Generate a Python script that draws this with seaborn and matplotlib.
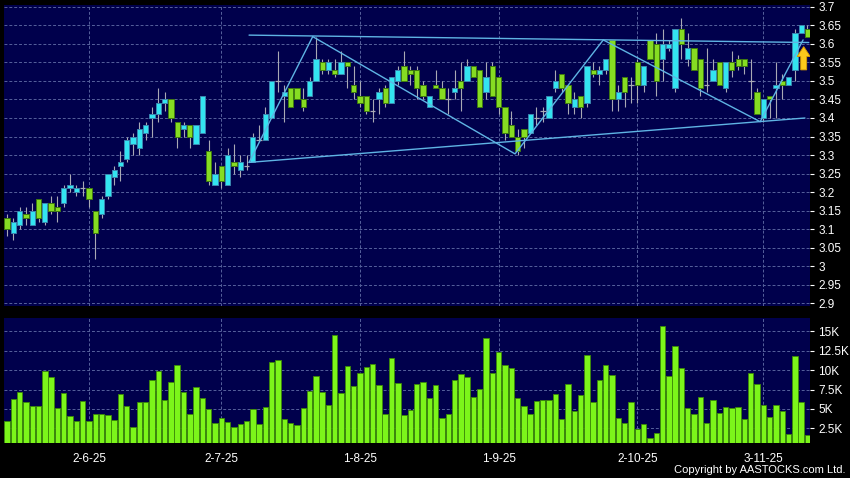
import numpy as np
import pandas as pd
import matplotlib
matplotlib.use('Agg')
from matplotlib import pyplot as plt
from matplotlib.patches import FancyArrow
import seaborn as sns

sns.set_style('dark')
plt.rcParams['font.family'] = ['Liberation Sans', 'DejaVu Sans']

# daily candles, one per trading day (index 0..127)
opens = [3.13, 3.09, 3.11, 3.14, 3.11, 3.18, 3.12, 3.17, 3.16, 3.17,
         3.21, 3.20, 3.21, 3.21, 3.15, 3.14, 3.19, 3.24, 3.27, 3.29,
         3.33, 3.32, 3.36, 3.40, 3.41, 3.44, 3.45, 3.39, 3.37, 3.38,
         3.33, 3.36, 3.31, 3.22, 3.27, 3.22, 3.28, 3.26, 3.27, 3.28,
         3.34, 3.34, 3.40, 3.50, 3.46, 3.48, 3.48, 3.45, 3.46, 3.50,
         3.55, 3.53, 3.53, 3.52, 3.55, 3.49, 3.46, 3.46, 3.42, 3.45,
         3.48, 3.44, 3.50, 3.54, 3.53, 3.53, 3.49, 3.43, 3.49, 3.48,
         3.45, 3.47, 3.50, 3.50, 3.54, 3.53, 3.47, 3.54, 3.51, 3.43,
         3.38, 3.35, 3.37, 3.36, 3.40, 3.42, 3.40, 3.48, 3.52, 3.49,
         3.43, 3.46, 3.44, 3.53, 3.52, 3.53, 3.61, 3.45, 3.51, 3.49,
         3.55, 3.49, 3.61, 3.60, 3.56, 3.59, 3.48, 3.64, 3.56, 3.59,
         3.56, 3.49, 3.50, 3.55, 3.48, 3.55, 3.56, 3.56, 3.50, 3.47,
         3.40, 3.46, 3.48, 3.50, 3.49, 3.53, 3.63, 3.64]
highs = [3.14, 3.13, 3.16, 3.16, 3.17, 3.18, 3.17, 3.19, 3.19, 3.22,
         3.25, 3.22, 3.23, 3.21, 3.15, 3.19, 3.25, 3.27, 3.31, 3.35,
         3.36, 3.39, 3.39, 3.43, 3.48, 3.47, 3.45, 3.39, 3.39, 3.38,
         3.38, 3.46, 3.34, 3.28, 3.27, 3.32, 3.33, 3.30, 3.30, 3.36,
         3.38, 3.43, 3.50, 3.58, 3.49, 3.48, 3.48, 3.48, 3.51, 3.62,
         3.56, 3.56, 3.56, 3.58, 3.55, 3.54, 3.50, 3.46, 3.45, 3.48,
         3.49, 3.51, 3.54, 3.58, 3.54, 3.54, 3.50, 3.46, 3.53, 3.50,
         3.48, 3.53, 3.55, 3.56, 3.54, 3.53, 3.55, 3.55, 3.51, 3.43,
         3.42, 3.37, 3.37, 3.41, 3.43, 3.43, 3.46, 3.53, 3.52, 3.49,
         3.47, 3.46, 3.54, 3.55, 3.54, 3.56, 3.61, 3.49, 3.51, 3.51,
         3.56, 3.54, 3.61, 3.63, 3.64, 3.61, 3.64, 3.67, 3.63, 3.59,
         3.56, 3.59, 3.56, 3.55, 3.55, 3.58, 3.57, 3.56, 3.56, 3.48,
         3.45, 3.46, 3.55, 3.52, 3.51, 3.64, 3.65, 3.65]
lows = [3.08, 3.07, 3.10, 3.11, 3.11, 3.12, 3.11, 3.14, 3.12, 3.16,
        3.20, 3.19, 3.19, 3.16, 3.02, 3.13, 3.18, 3.22, 3.23, 3.28,
        3.30, 3.30, 3.34, 3.35, 3.39, 3.42, 3.39, 3.32, 3.35, 3.32,
        3.33, 3.36, 3.22, 3.22, 3.21, 3.22, 3.25, 3.24, 3.26, 3.28,
        3.34, 3.34, 3.40, 3.47, 3.39, 3.43, 3.45, 3.42, 3.46, 3.50,
        3.52, 3.52, 3.51, 3.52, 3.48, 3.45, 3.43, 3.41, 3.39, 3.41,
        3.43, 3.44, 3.49, 3.50, 3.49, 3.45, 3.45, 3.43, 3.48, 3.45,
        3.41, 3.45, 3.42, 3.50, 3.51, 3.43, 3.45, 3.46, 3.41, 3.34,
        3.35, 3.30, 3.32, 3.36, 3.38, 3.39, 3.40, 3.47, 3.47, 3.41,
        3.41, 3.40, 3.43, 3.51, 3.49, 3.52, 3.42, 3.42, 3.43, 3.44,
        3.44, 3.47, 3.56, 3.46, 3.50, 3.58, 3.47, 3.56, 3.54, 3.53,
        3.46, 3.47, 3.50, 3.49, 3.47, 3.51, 3.53, 3.52, 3.45, 3.41,
        3.39, 3.40, 3.40, 3.45, 3.49, 3.50, 3.63, 3.62]
closes = [3.10, 3.12, 3.15, 3.13, 3.15, 3.13, 3.17, 3.15, 3.15, 3.21,
          3.22, 3.21, 3.21, 3.18, 3.09, 3.18, 3.25, 3.26, 3.28, 3.34,
          3.35, 3.37, 3.38, 3.41, 3.44, 3.45, 3.40, 3.35, 3.38, 3.35,
          3.38, 3.46, 3.23, 3.25, 3.23, 3.30, 3.27, 3.28, 3.27, 3.35,
          3.34, 3.41, 3.50, 3.50, 3.47, 3.43, 3.45, 3.43, 3.50, 3.56,
          3.53, 3.55, 3.52, 3.55, 3.54, 3.47, 3.44, 3.42, 3.42, 3.47,
          3.44, 3.51, 3.53, 3.50, 3.52, 3.48, 3.46, 3.46, 3.48, 3.45,
          3.45, 3.48, 3.48, 3.54, 3.51, 3.43, 3.51, 3.46, 3.43, 3.36,
          3.35, 3.31, 3.35, 3.41, 3.40, 3.42, 3.46, 3.50, 3.48, 3.44,
          3.45, 3.43, 3.54, 3.52, 3.53, 3.56, 3.45, 3.47, 3.47, 3.49,
          3.49, 3.54, 3.56, 3.50, 3.60, 3.60, 3.64, 3.60, 3.59, 3.53,
          3.48, 3.49, 3.53, 3.49, 3.55, 3.53, 3.54, 3.54, 3.50, 3.41,
          3.45, 3.45, 3.49, 3.49, 3.51, 3.63, 3.65, 3.62]
volumes = [3480, 6270, 7170, 5840, 5410, 5410, 9920, 9150, 5070, 7050,
           4080, 3480, 5970, 3480, 4300, 4380, 4250, 3570, 6960, 5410,
           2660, 5930, 5930, 8720, 9880, 6190, 8420, 10700, 7130, 4300,
           7780, 6400, 5030, 3220, 3820, 3260, 2620, 3010, 3480, 4980,
           3050, 5280, 11040, 11260, 3650, 3220, 2920, 5070, 7350, 9240,
           7170, 5460, 14480, 7050, 10570, 7900, 9620, 10400, 10830, 8080,
           4340, 11600, 8330, 4170, 4850, 8160, 8510, 6360, 8030, 3780,
           4380, 8720, 9450, 9150, 6570, 7560, 14090, 9580, 12290, 10650,
           10220, 6440, 5370, 4300, 6060, 6140, 6100, 6960, 3740, 8250,
           4770, 6740, 11940, 5930, 8720, 10650, 9370, 3780, 3140, 5840,
           2360, 3010, 1200, 1850, 15720, 9190, 13150, 10310, 5070, 4300,
           6570, 3220, 6140, 4420, 5280, 5070, 5280, 3740, 9670, 8160,
           5500, 3910, 5500, 4770, 1720, 11810, 5890, 1630]

date_pos = [13, 34, 56, 78, 100, 120]
date_labels = ['2-6-25', '2-7-25', '1-8-25', '1-9-25', '2-10-25', '3-11-25']
price_ticks = [2.9, 2.95, 3.0, 3.05, 3.1, 3.15, 3.2, 3.25, 3.3, 3.35,
               3.4, 3.45, 3.5, 3.55, 3.6, 3.65, 3.7]
vol_ticks = [2500, 5000, 7500, 10000, 12500, 15000]
vol_labels = ['2.5K', '5K', '7.5K', '10K', '12.5K', '15K']

# hand-drawn pattern lines (bar index, price)
top_line_x = [38.4, 127.2]
top_line_y = [3.624, 3.604]
low_line_x = [38.4, 126.6]
low_line_y = [3.280, 3.400]
zig_x = [38.4, 48.5, 80.6, 94.6, 119.5, 126.3]
zig_y = [3.280, 3.620, 3.303, 3.611, 3.390, 3.611]

NAVY = '#00004c'
GRID = '#56619c'
CYAN = '#33e4f0'
CYAN_EDGE = '#3a86b0'
GREEN = '#86dc22'
GREEN_EDGE = '#3f7a10'
VOLG = '#7cf51a'
LINE = '#5fb4e4'

df = pd.DataFrame({'bar': np.arange(len(opens)), 'open': opens, 'high': highs,
                   'low': lows, 'close': closes, 'volume': volumes})

fig = plt.figure(figsize=(8.5, 4.78), dpi=100, facecolor='black')
axp = fig.add_axes([4 / 850, 1 - 306 / 478, 806 / 850, 301 / 478])
axv = fig.add_axes([4 / 850, 1 - 443 / 478, 806 / 850, 125 / 478])

for ax in axp, axv:
    ax.set_facecolor(NAVY)
    for s in ax.spines.values():
        s.set_visible(False)
    ax.yaxis.tick_right()
    ax.grid(True, color=GRID, ls=(0, (3, 2)), lw=0.7)
    ax.set_axisbelow(True)
    ax.tick_params(axis='y', colors='white', labelsize=8.5, length=3, pad=3, width=0.8)
    ax.set_xticks(date_pos)

# candles
up = df[df.close > df.open]
dn = df[df.close < df.open]
flat = df[df.close == df.open]
axp.vlines(df.bar, df.low, df.high, color='#a9a9b4', lw=0.8, zorder=2)
axp.bar(up.bar, up.close - up.open, bottom=up.open, width=0.84,
        color=CYAN, edgecolor=CYAN_EDGE, linewidth=0.7, zorder=3)
axp.bar(dn.bar, dn.open - dn.close, bottom=dn.close, width=0.84,
        color=GREEN, edgecolor=GREEN_EDGE, linewidth=0.7, zorder=3)
axp.hlines(flat.close, flat.bar - 0.45, flat.bar + 0.45, color='#a9a9b4', lw=0.9, zorder=3)

# pattern lines
sns.lineplot(x=top_line_x, y=top_line_y, ax=axp, color=LINE, lw=1.0, zorder=4)
sns.lineplot(x=low_line_x, y=low_line_y, ax=axp, color=LINE, lw=1.0, zorder=4)
axp.plot(zig_x, zig_y, color=LINE, lw=1.0, zorder=4)

arrow = FancyArrow(126.4, 3.530, 0, 0.063, width=0.95, head_width=2.1, head_length=0.027,
                   length_includes_head=True, fc='#fcc81c', ec='#d89a00', lw=0.6, zorder=6)
axp.add_patch(arrow)

axp.set_xlim(-0.48, 127.4)
axp.set_ylim(2.8919, 3.7054)
axp.set_yticks(price_ticks)
axp.set_yticklabels(['%g' % t for t in price_ticks])
axp.tick_params(axis='x', length=0, labelbottom=False)
axp.set_xlabel('')
axp.set_ylabel('')

# volume
sns.barplot(data=df, x='bar', y='volume', native_scale=True, width=0.86, color=VOLG,
            saturation=1, edgecolor='#3c8a08', linewidth=0.6, errorbar=None, ax=axv)
axv.set_xlim(-0.48, 127.4)
axv.set_ylim(606, 16718)
axv.set_yticks(vol_ticks)
axv.set_yticklabels(vol_labels)
axv.set_xticks(date_pos)
axv.set_xticklabels(date_labels)
axv.tick_params(axis='x', colors='white', labelsize=8.5, length=3, pad=4, width=0.8)
axv.set_xlabel('')
axv.set_ylabel('')

fig.text(0.995, 0.006, 'Copyright by AASTOCKS.com Ltd.', ha='right', va='bottom',
         color='white', fontsize=8)

fig.savefig('out.png', dpi=100, facecolor='black')
